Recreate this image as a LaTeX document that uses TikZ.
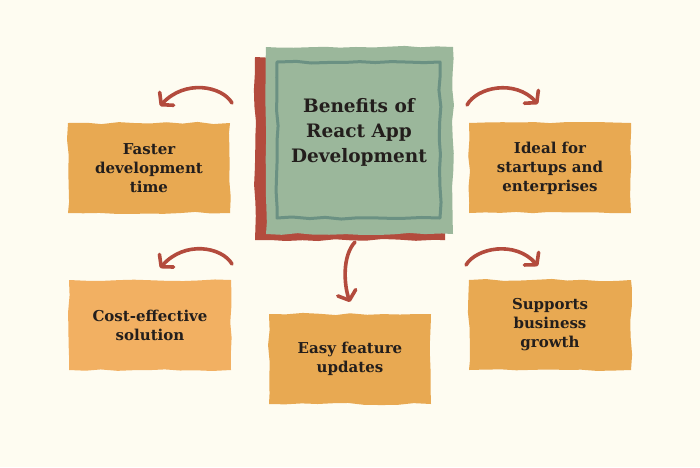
\documentclass[tikz,border=0pt]{standalone}
\usepackage{fontspec}
\setmainfont{DejaVu Serif}
\usetikzlibrary{decorations.pathmorphing,arrows.meta}
\definecolor{cream}{HTML}{FEFCF1}
\definecolor{sage}{HTML}{9BB79B}
\definecolor{sagedark}{HTML}{6B9183}
\definecolor{brick}{HTML}{B34B3D}
\definecolor{amber}{HTML}{E8A952}
\definecolor{amberlight}{HTML}{F2B062}
\definecolor{ink}{HTML}{231E1C}

\begin{document}
\begin{tikzpicture}[x=1pt,y=-1pt,>={Straight Barb[length=8pt,width=19pt,round]},
    wobbly/.style={decorate,decoration={random steps,segment length=16pt,amplitude=1.1pt},line join=round},
    box/.style={wobbly,fill=amber,minimum width=162pt,minimum height=90pt,align=center,
                text=ink,font=\fontsize{15}{19}\selectfont\bfseries},
    bend arrow/.style={->,brick,line width=3.6pt,line cap=round}]
    \pgfmathsetseed{5}
    \useasboundingbox (0,0) rectangle (700,467);
    \fill[cream] (0,0) rectangle (700,467);
    % centre block
    \node (backing) at (350,148.5) [wobbly,fill=brick,minimum width=190pt,minimum height=183pt] {};
    \node (centre) at (359.5,140.5) [wobbly,fill=sage,minimum width=187pt,minimum height=187pt] {};
    \node (frame) at (358.5,140) [wobbly,draw=sagedark,line width=3pt,minimum width=163pt,minimum height=156pt] {};
    \node (title) at (359,132) [align=center,text=ink,font=\fontsize{18.5}{25}\selectfont\bfseries] {Benefits of\\React App\\Development};
    % benefits
    \node (faster) at (149,168) [box] {Faster\\development\\time};
    \node (ideal)  at (550,168) [box] {Ideal for\\startups and\\enterprises};
    \node (cost)   at (150,325) [box,fill=amberlight] {Cost-effective\\solution};
    \node (growth) at (550,325) [box] {Supports\\business\\growth};
    \node (easy)   at (350,359) [box] {Easy feature\\updates};
    % arrows
    \coordinate (fasterfrom) at (232,103);  \coordinate (fasterto) at (160,106);
    \coordinate (idealfrom)  at (467,105);  \coordinate (idealto)  at (538,104);
    \coordinate (costfrom)   at (232,264);  \coordinate (costto)   at (160,268);
    \coordinate (growthfrom) at (466,265);  \coordinate (growthto) at (538,266);
    \coordinate (easyfrom)   at (355,242);  \coordinate (easyto)   at (350,302);
    \draw[bend arrow] (fasterfrom) .. controls (222,86) and (185,79) .. (fasterto);
    \draw[bend arrow] (idealfrom) .. controls (477,87) and (515,79) .. (idealto);
    \draw[bend arrow] (costfrom) .. controls (222,247) and (185,240) .. (costto);
    \draw[bend arrow] (growthfrom) .. controls (476,248) and (515,240) .. (growthto);
    \draw[bend arrow] (easyfrom) .. controls (342,256) and (344,285) .. (easyto);
\end{tikzpicture}
\end{document}
